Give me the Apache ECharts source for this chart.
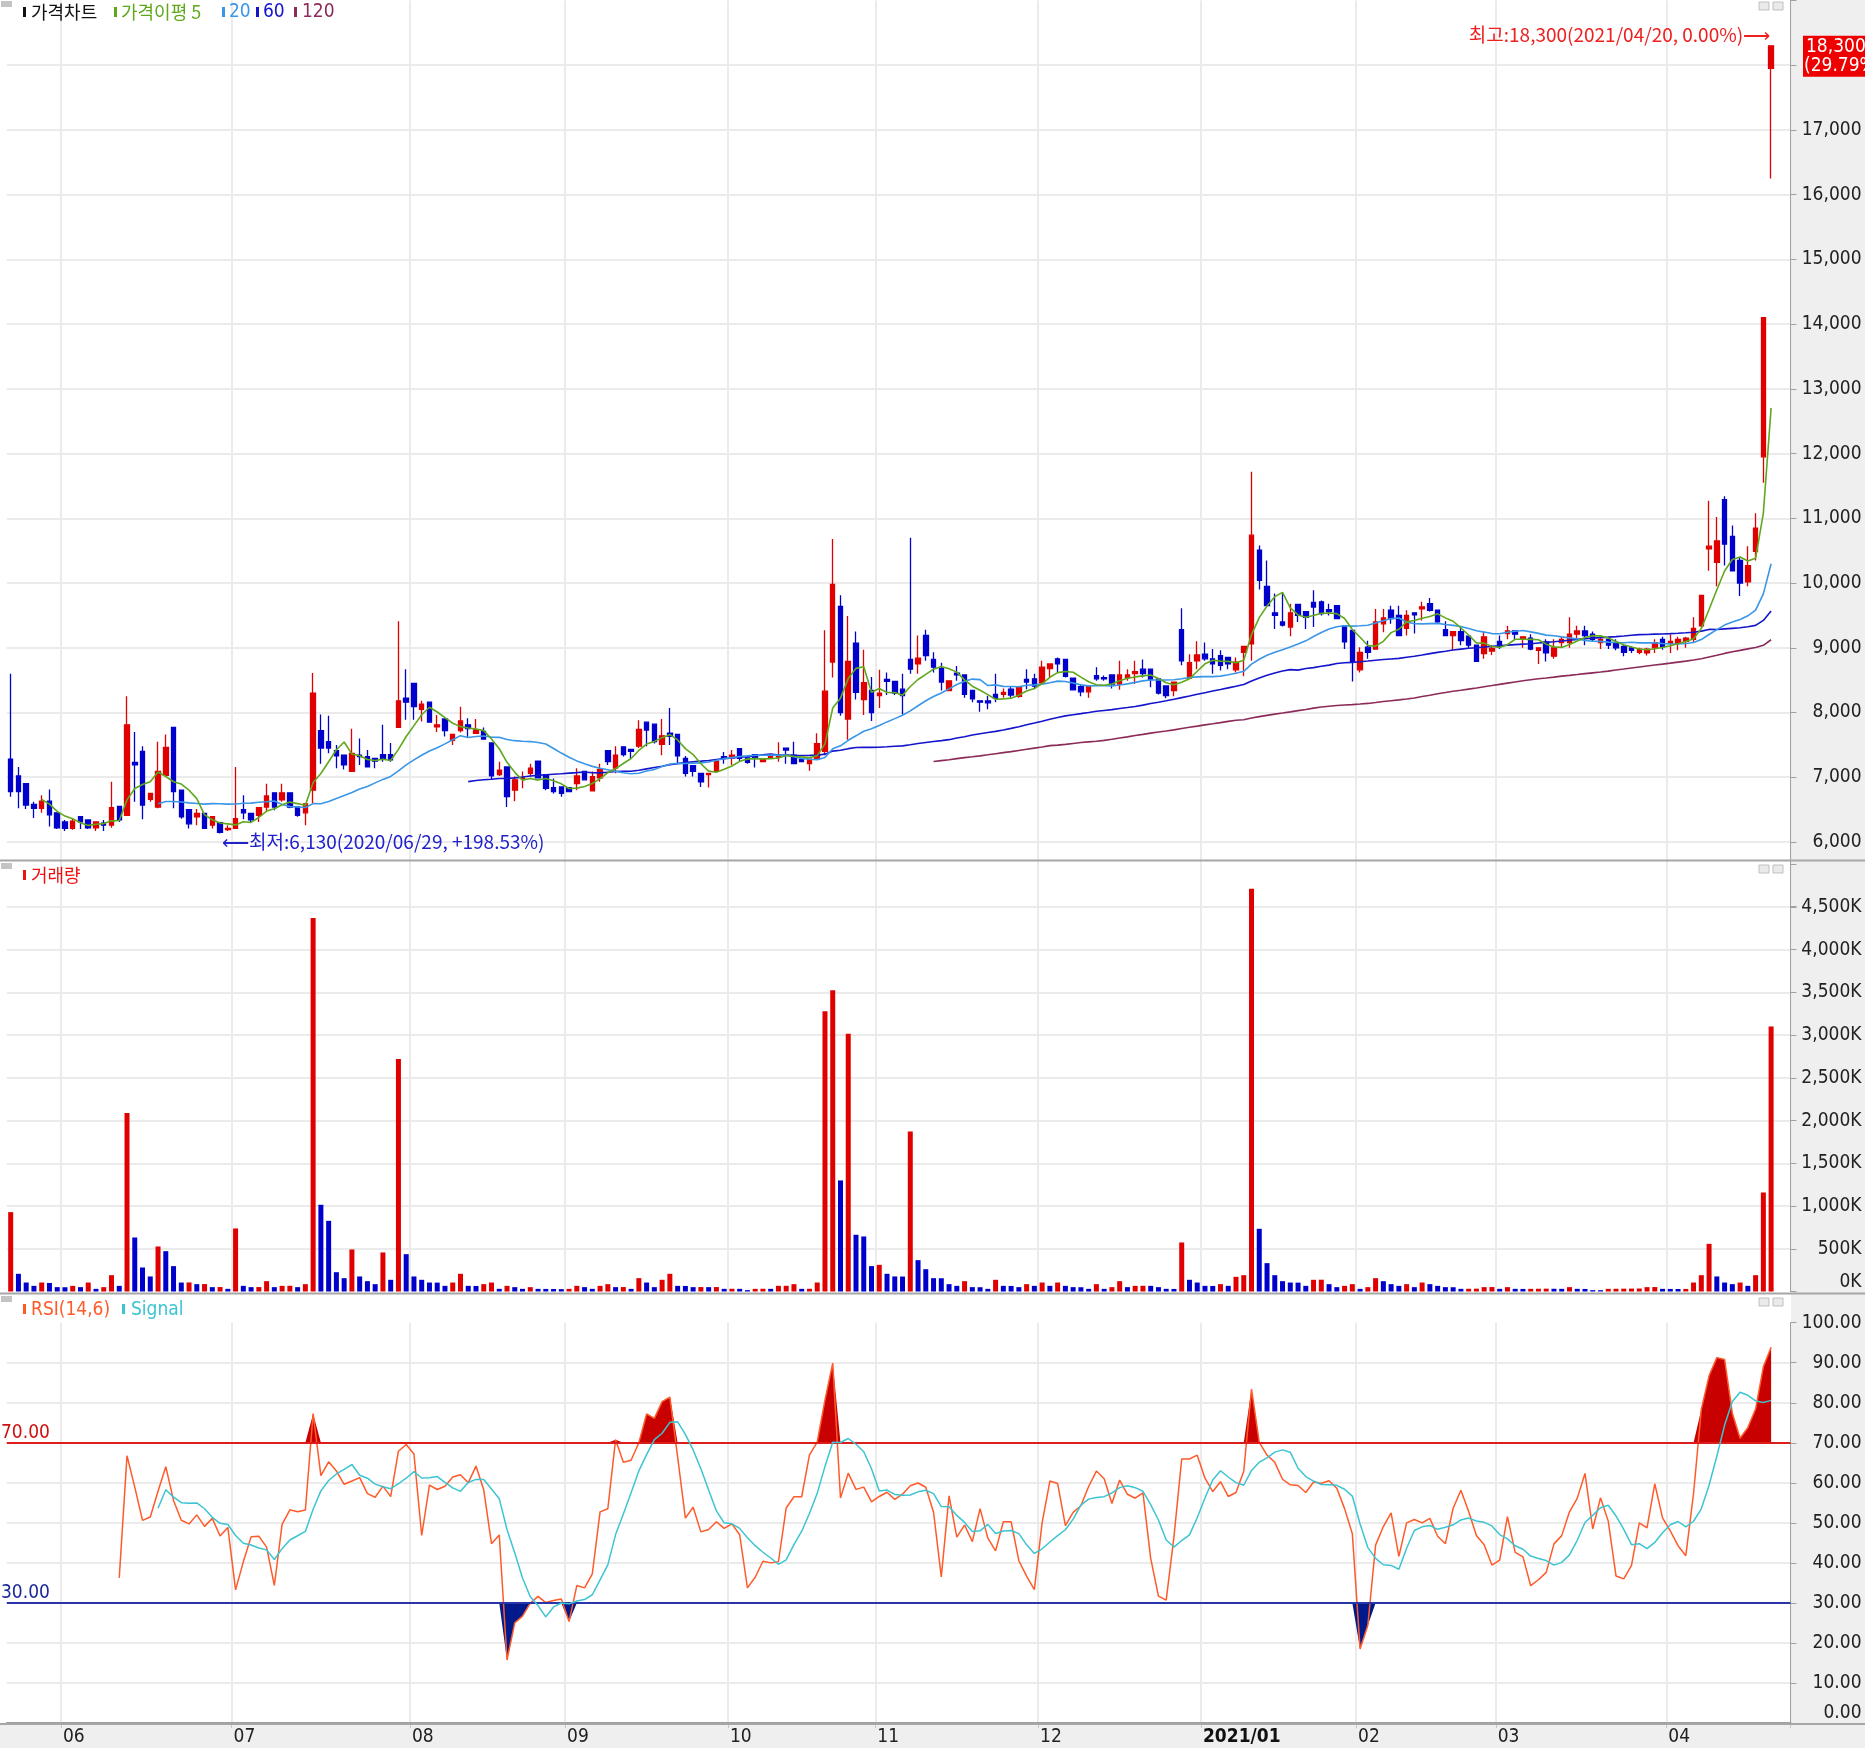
<!DOCTYPE html>
<html><head><meta charset="utf-8">
<script src="https://cdn.jsdelivr.net/npm/echarts@6.0.0/dist/echarts.min.js"></script>
<style>html,body{margin:0;padding:0;background:#fff}#c{width:1865px;height:1748px}</style>
</head><body><div id="c"></div><script>
// ---------------- DATA ----------------
const dates = ("2020/05/21 2020/05/22 2020/05/25 2020/05/26 2020/05/27 2020/05/28 2020/05/29 " +
"2020/06/01 2020/06/02 2020/06/03 2020/06/04 2020/06/05 2020/06/08 2020/06/09 2020/06/10 2020/06/11 2020/06/12 2020/06/15 2020/06/16 2020/06/17 2020/06/18 2020/06/19 2020/06/22 2020/06/23 2020/06/24 2020/06/25 2020/06/26 2020/06/29 2020/06/30 " +
"2020/07/01 2020/07/02 2020/07/03 2020/07/06 2020/07/07 2020/07/08 2020/07/09 2020/07/10 2020/07/13 2020/07/14 2020/07/15 2020/07/16 2020/07/17 2020/07/20 2020/07/21 2020/07/22 2020/07/23 2020/07/24 2020/07/27 2020/07/28 2020/07/29 2020/07/30 2020/07/31 " +
"2020/08/03 2020/08/04 2020/08/05 2020/08/06 2020/08/07 2020/08/10 2020/08/11 2020/08/12 2020/08/13 2020/08/14 2020/08/18 2020/08/19 2020/08/20 2020/08/21 2020/08/24 2020/08/25 2020/08/26 2020/08/27 2020/08/28 2020/08/31 " +
"2020/09/01 2020/09/02 2020/09/03 2020/09/04 2020/09/07 2020/09/08 2020/09/09 2020/09/10 2020/09/11 2020/09/14 2020/09/15 2020/09/16 2020/09/17 2020/09/18 2020/09/21 2020/09/22 2020/09/23 2020/09/24 2020/09/25 2020/09/28 2020/09/29 " +
"2020/10/05 2020/10/06 2020/10/07 2020/10/08 2020/10/12 2020/10/13 2020/10/14 2020/10/15 2020/10/16 2020/10/19 2020/10/20 2020/10/21 2020/10/22 2020/10/23 2020/10/26 2020/10/27 2020/10/28 2020/10/29 2020/10/30 " +
"2020/11/02 2020/11/03 2020/11/04 2020/11/05 2020/11/06 2020/11/09 2020/11/10 2020/11/11 2020/11/12 2020/11/13 2020/11/16 2020/11/17 2020/11/18 2020/11/19 2020/11/20 2020/11/23 2020/11/24 2020/11/25 2020/11/26 2020/11/27 2020/11/30 " +
"2020/12/01 2020/12/02 2020/12/03 2020/12/04 2020/12/07 2020/12/08 2020/12/09 2020/12/10 2020/12/11 2020/12/14 2020/12/15 2020/12/16 2020/12/17 2020/12/18 2020/12/21 2020/12/22 2020/12/23 2020/12/24 2020/12/28 2020/12/29 2020/12/30 " +
"2021/01/04 2021/01/05 2021/01/06 2021/01/07 2021/01/08 2021/01/11 2021/01/12 2021/01/13 2021/01/14 2021/01/15 2021/01/18 2021/01/19 2021/01/20 2021/01/21 2021/01/22 2021/01/25 2021/01/26 2021/01/27 2021/01/28 2021/01/29 " +
"2021/02/01 2021/02/02 2021/02/03 2021/02/04 2021/02/05 2021/02/08 2021/02/09 2021/02/10 2021/02/15 2021/02/16 2021/02/17 2021/02/18 2021/02/19 2021/02/22 2021/02/23 2021/02/24 2021/02/25 2021/02/26 " +
"2021/03/02 2021/03/03 2021/03/04 2021/03/05 2021/03/08 2021/03/09 2021/03/10 2021/03/11 2021/03/12 2021/03/15 2021/03/16 2021/03/17 2021/03/18 2021/03/19 2021/03/22 2021/03/23 2021/03/24 2021/03/25 2021/03/26 2021/03/29 2021/03/30 2021/03/31 " +
"2021/04/01 2021/04/02 2021/04/05 2021/04/06 2021/04/07 2021/04/08 2021/04/09 2021/04/12 2021/04/13 2021/04/14 2021/04/15 2021/04/16 2021/04/19 2021/04/20").split(' ');

const opens = [
7280,7020,6900,6580,6520,6630,6450,6310,6210,6390, 6340,6220,6290,6260,6550,6410,7230,7400,6660,6540,
7030,7770,6800,6500,6390,6440,6260,6300,6190,6210, 6500,6440,6410,6540,6760,6650,6760,6540,6450,6800,
7720,7550,7410,7340,7090,7340,7320,7290,7350,7350, 7770,8220,8450,8050,8160,7780,7900,7570,7720,7810,
7680,7710,7530,7040,7160,6800,6980,7060,7250,7040, 6840,6850,6840,6900,7090,6790,6990,7410,7140,7470,
7430,7480,7850,7820,7510,7680,7660,7290,7180,7060, 7040,7090,7320,7300,7440,7300,7350,7240,7290,7310,
7450,7340,7280,7210,7290,7400,8780,9640,7900,9070, 8200,8340,8260,8510,8480,8360,8820,8750,9190,8820,
8680,8340,8610,8580,8340,8180,8180,8280,8280,8360, 8250,8510,8520,8460,8680,8830,8820,8530,8400,8320,
8570,8540,8580,8440,8540,8600,8670,8670,8520,8410, 8340,9280,8530,8800,8900,8830,8880,8850,8660,8930,
9060,10510,9950,9540,9400,9320,9670,9560,9700,9710, 9590,9650,9340,9270,8660,9010,8980,9370,9580,9500,
9300,9540,9600,9680,9580,9280,9190,9250,9180,9040, 8910,8950,9100,9220,9260,9130,9150,8960,9090,8870,
9080,9080,9210,9260,9210,9080,9130,9080,9020,9000, 8930,8920,9000,9130,9070,9070,9100,9130,9340,10530,
10320,11290,10720,10350,10020,10490,11950,17950];

const highs = [
8600,7160,6900,6620,6720,6810,6450,6340,6360,6390, 6340,6310,6340,6930,6550,8250,7700,7480,6750,7550,
7660,7770,6800,6500,6510,6440,6400,6300,6260,7160, 6720,6440,6540,6900,6760,6900,6760,6540,6590,8610,
7970,7950,7500,7340,7750,7600,7420,7290,7810,7530, 9410,8670,8450,8180,8160,7960,7900,7660,8090,7910,
7900,7770,7530,7240,7160,7010,7090,7210,7250,7040, 6980,6850,6840,7140,7090,7090,7210,7410,7480,7470,
7430,7880,7850,7820,7900,8070,7660,7330,7180,7060, 7060,7250,7390,7420,7440,7300,7350,7270,7350,7540,
7450,7550,7280,7280,7680,9270,10680,9810,9490,9250, 8970,8550,8660,8620,8480,8600,10700,9190,9280,8930,
8770,8490,8720,8580,8340,8180,8260,8600,8370,8410, 8410,8670,8600,8800,8750,8850,8820,8530,8440,8400,
8700,8570,8580,8800,8670,8800,8820,8670,8520,8410, 8470,9610,8900,9100,9080,8980,8960,8850,8850,9020,
11720,10580,10350,9840,9850,9680,9670,9560,9890,9730, 9680,9650,9340,9270,9010,9110,9600,9600,9650,9650,
9580,9550,9710,9770,9580,9410,9250,9320,9180,9040, 9250,9040,9190,9340,9270,9170,9210,9000,9130,9130,
9170,9470,9340,9340,9250,9170,9170,9130,9040,9020, 9000,9000,9130,9170,9210,9170,9170,9470,9810,11270,
11020,11340,10890,10400,10570,11080,14100,18300];

const lows = [
6700,6520,6510,6370,6450,6240,6200,6170,6190,6200, 6200,6170,6170,6220,6310,6410,6620,6350,6620,6520,
7030,6520,6360,6210,6260,6200,6210,6130,6170,6200, 6350,6310,6310,6470,6490,6620,6520,6390,6260,6600,
7210,7370,7140,7120,7080,7190,7150,7140,7240,7240, 7770,7890,7890,7860,7840,7700,7630,7500,7690,7610,
7680,7580,6960,7020,6540,6630,6830,7010,6980,6800, 6750,6700,6770,6800,6950,6780,6930,7190,7060,7320,
7290,7450,7480,7520,7340,7500,7210,7010,7010,6850, 6840,7090,7210,7190,7240,7210,7150,7230,7290,7240,
7210,7200,7240,7100,7270,7340,8540,7950,7580,8200, 7960,7870,8070,8270,8270,7970,8600,8600,8800,8620,
8340,8340,8490,8230,8160,8010,8050,8160,8230,8230, 8230,8360,8360,8440,8540,8620,8540,8340,8250,8230,
8490,8490,8370,8350,8490,8440,8540,8390,8280,8220, 8250,8730,8530,8670,8800,8600,8650,8670,8620,8560,
8800,9900,9650,9290,9330,9180,9400,9290,9320,9500, 9500,9440,8980,8480,8620,8830,8980,9240,9370,9180,
9190,9220,9420,9560,9370,9180,8960,9040,8990,8780, 8830,8890,8980,9130,9120,9000,8960,8750,8790,8830,
9000,9000,9130,9040,9090,8980,8980,8960,8870,8920, 8900,8880,8920,8970,8920,8960,9000,9090,9300,10190,
9950,10270,10190,9800,9950,10350,11550,16250];

const closes = [
6780,6780,6570,6520,6630,6420,6220,6210,6320,6310, 6220,6310,6260,6530,6340,7810,7190,6570,6750,7090,
7460,6780,6390,6280,6440,6210,6390,6150,6210,6360, 6450,6340,6530,6710,6540,6760,6540,6410,6590,8300,
7450,7450,7330,7190,7370,7320,7160,7250,7290,7270, 8180,8160,8090,8130,7850,7810,7720,7660,7870,7750,
7730,7590,7020,7110,6700,6960,6990,7140,6990,6830, 6780,6750,6780,7020,6960,7010,7120,7240,7340,7350,
7400,7740,7730,7550,7640,7630,7330,7060,7090,6930, 7060,7250,7290,7340,7290,7230,7290,7270,7350,7350,
7420,7210,7240,7280,7520,8330,9980,8000,8790,8310, 8460,8000,8300,8480,8300,8260,8670,8840,8880,8700,
8470,8490,8580,8280,8210,8160,8150,8220,8310,8270, 8390,8470,8410,8700,8750,8750,8560,8350,8320,8400,
8520,8520,8440,8580,8580,8630,8600,8510,8300,8260, 8470,8800,8770,8890,8830,8750,8730,8750,8780,9020,
10740,10040,9650,9500,9350,9540,9500,9470,9630,9530, 9560,9450,9090,8780,8930,8930,9400,9460,9450,9190,
9500,9510,9630,9580,9400,9190,9250,9110,9040,8790, 9170,8990,9030,9260,9210,9170,8980,9000,8920,9000,
9130,9210,9260,9190,9130,9130,9040,9000,8930,8960, 8980,8980,9080,9020,9100,9130,9150,9300,9810,10570,
10650,10600,10190,10000,10270,10850,14100,18300];

// volume in thousands of shares
const volumesK = [
929,207,105,66,105,100,51,50,66,51, 105,31,51,191,66,2088,632,281,176,527,
472,297,105,106,86,87,51,52,31,738, 66,51,52,121,51,66,67,51,86,4371,
1015,827,226,156,492,176,121,86,457,137, 2720,437,176,137,105,104,66,105,207,66,
65,86,105,31,66,51,31,51,31,30, 29,28,31,66,51,31,66,86,51,52,
31,156,105,51,137,207,66,65,51,52, 51,52,31,32,31,16,31,32,31,66,
67,86,31,32,105,3279,3525,1300,3017,664, 644,297,312,207,176,175,1873,367,261,156,
155,86,66,121,51,50,31,137,66,65, 51,86,66,105,66,105,66,51,50,31,
86,31,51,121,51,66,67,66,51,31, 30,574,137,105,66,65,86,66,172,191,
4715,734,332,191,121,105,104,66,137,138, 86,51,66,86,31,51,156,121,86,66,
86,51,105,86,66,51,50,31,32,33, 51,52,31,51,31,30,31,32,33,32,
31,51,31,30,16,15,31,32,33,34, 35,51,52,31,30,29,30,105,191,558,
176,105,86,105,66,191,1159,3103];

const xTickLabels = ['06','07','08','09','10','11','12','2021/01','02','03','04'];
const priceTicks = [6000,7000,8000,9000,10000,11000,12000,13000,14000,15000,16000,17000];
const maPeriods = [5, 20, 60, 120];
const maColors = ['#5fa81c', '#3a96e6', '#1414cc', '#8c2a5a'];
const RSI_N = 14, SIG_N = 6;

// ---------------- DERIVED ----------------
const NARROW = "'Liberation Sans Narrow','DejaVu Sans Condensed','Liberation Sans',sans-serif";
const KR = "'Noto Sans CJK KR',sans-serif";
const MIX = "'Liberation Sans Narrow','Noto Sans CJK KR',sans-serif";
const UP = '#e00000', DOWN = '#0000cc';

const cats = dates.concat([' ', '  ']); // right padding slots
const monthStart = dates.map((d, i) => i > 0 && d.slice(0, 7) !== dates[i - 1].slice(0, 7));
const monthLabel = {};
let mk = 0;
dates.forEach((d, i) => { if (monthStart[i]) monthLabel[i] = xTickLabels[mk++]; });

const ohlc = dates.map((d, i) => [opens[i], closes[i], lows[i], highs[i]]);
function sma(arr, n) {
  return arr.map((v, i) => {
    if (i < n - 1 || arr[i - n + 1] == null) return '-';
    let s = 0; for (let k = i - n + 1; k <= i; k++) s += arr[k];
    return +(s / n).toFixed(2);
  });
}
const mas = maPeriods.map(p => sma(closes, p));
const rsi = closes.map((c, i) => {
  if (i < RSI_N) return null;
  let g = 0, l = 0;
  for (let k = i - RSI_N + 1; k <= i; k++) { const d = closes[k] - closes[k - 1]; if (d > 0) g += d; else l -= d; }
  return g + l === 0 ? 50 : 100 * g / (g + l);
});
const signal = rsi.map((v, i) => {
  if (i < RSI_N + SIG_N - 1) return null;
  let s = 0; for (let k = i - SIG_N + 1; k <= i; k++) s += rsi[k];
  return s / SIG_N;
});
const dash = v => v == null ? '-' : +v.toFixed(2);
const volData = volumesK.map((v, i) => ({ value: v, itemStyle: { color: (i === 0 || v > volumesK[i - 1]) ? UP : DOWN } }));

const maxHigh = Math.max(...highs), hiIdx = highs.indexOf(maxHigh);
const minLow = Math.min(...lows), loIdx = lows.indexOf(minLow);
const last = closes.length - 1;
const lastChg = (closes[last] - closes[last - 1]) / closes[last - 1] * 100;
const fmt = v => v.toLocaleString('en-US');

// ---------------- CHART ----------------
const G = { left: 6.8, width: 1783.7 };
const splitX = { show: true, interval: (i) => !!monthStart[i], lineStyle: { color: '#ebebeb', width: 2 } };
function catAxis(gi, bottom) {
  return {
    type: 'category', gridIndex: gi, data: cats, boundaryGap: true,
    axisLine: { show: bottom, lineStyle: { color: '#a0a0a0', width: 2 } },
    axisTick: { show: bottom, interval: (i) => !!monthStart[i], length: 5, lineStyle: { color: '#c8c8c8' } },
    axisLabel: bottom ? {
      show: true, interval: (i) => !!monthStart[i], margin: 5, align: 'left',
      fontFamily: NARROW, fontSize: 19, color: '#222', padding: [0, 0, 0, -2],
      formatter: (v, i) => { const t = monthLabel[i] || ''; return t.indexOf('/') > 0 ? '{b|' + t + '}' : t; },
      rich: { b: { fontFamily: NARROW, fontSize: 19, fontWeight: 'bold', color: '#111' } }
    } : { show: false },
    splitLine: splitX
  };
}
function valAxis(gi, min, max, interval, fmtFn) {
  return {
    type: 'value', gridIndex: gi, position: 'right', min, max, interval, scale: false,
    axisLine: { show: true, lineStyle: { color: '#a0a0a0', width: 1 } },
    axisTick: { show: true, inside: false, length: 6, lineStyle: { color: '#a0a0a0' } },
    axisLabel: { show: true, margin: 71, align: 'right', fontFamily: NARROW, fontSize: 19, color: '#222',
      verticalAlignMinLabel: 'bottom', formatter: fmtFn },
    splitLine: { show: true, showMaxLine: false, showMinLine: false, lineStyle: { color: '#ebebeb', width: 2 } }
  };
}

const series = [
  { type: 'candlestick', xAxisIndex: 0, yAxisIndex: 0, data: ohlc, barWidth: 5,
    itemStyle: { color: UP, color0: DOWN, borderColor: UP, borderColor0: DOWN, borderColorDoji: UP, borderWidth: 1.3 } }
];
[3, 2, 1, 0].forEach(k => series.push({
  type: 'line', xAxisIndex: 0, yAxisIndex: 0, data: mas[k], symbol: 'none', silent: true,
  lineStyle: { color: maColors[k], width: 1.6 }, z: 3
}));
series.push({ type: 'bar', xAxisIndex: 1, yAxisIndex: 1, data: volData, barWidth: 5 });
// RSI fills (overbought above 70, oversold below 30)
series.push({ type: 'line', xAxisIndex: 2, yAxisIndex: 2, stack: 'ob', symbol: 'none', silent: true,
  data: rsi.map(v => v == null ? '-' : 70), lineStyle: { opacity: 0 } });
series.push({ type: 'line', xAxisIndex: 2, yAxisIndex: 2, stack: 'ob', symbol: 'none', silent: true,
  data: rsi.map(v => v == null ? '-' : Math.max(v - 70, 0)), lineStyle: { opacity: 0 }, areaStyle: { color: '#c80000', opacity: 1 } });
series.push({ type: 'line', xAxisIndex: 2, yAxisIndex: 2, stack: 'os', symbol: 'none', silent: true,
  data: rsi.map(v => v == null ? '-' : Math.min(v, 30)), lineStyle: { opacity: 0 } });
series.push({ type: 'line', xAxisIndex: 2, yAxisIndex: 2, stack: 'os', symbol: 'none', silent: true,
  data: rsi.map(v => v == null ? '-' : 30 - Math.min(v, 30)), lineStyle: { opacity: 0 }, areaStyle: { color: '#001a8c', opacity: 1 } });
series.push({ type: 'line', xAxisIndex: 2, yAxisIndex: 2, data: rsi.map(dash), symbol: 'none', silent: true,
  lineStyle: { color: '#ff5a2a', width: 1.5 }, z: 4,
  markLine: { silent: true, symbol: 'none', label: { show: false },
    data: [{ yAxis: 70, lineStyle: { color: '#dd1c1c', width: 2, type: 'solid' } },
           { yAxis: 30, lineStyle: { color: '#2a36a8', width: 2, type: 'solid' } }] } });
series.push({ type: 'line', xAxisIndex: 2, yAxisIndex: 2, data: signal.map(dash), symbol: 'none', silent: true,
  lineStyle: { color: '#3cc4d2', width: 1.5 }, z: 5 });

const chart = echarts.init(document.getElementById('c'), null, { renderer: 'canvas' });
chart.setOption({
  animation: false, backgroundColor: '#ffffff',
  grid: [
    Object.assign({ top: 0.5, height: 906.2 }, G),
    Object.assign({ top: 864.3, height: 427.2 }, G),
    Object.assign({ top: 1322.7, height: 400.3 }, G)
  ],
  xAxis: [catAxis(0, false), catAxis(1, false), catAxis(2, true)],
  yAxis: [
    valAxis(0, 5000, 19000, 1000, v => priceTicks.indexOf(v) >= 0 ? fmt(v) : ''),
    valAxis(1, 0, 5000, 500, v => v <= 4500 ? fmt(v) + 'K' : ''),
    valAxis(2, 0, 100, 10, v => v.toFixed(2))
  ],
  series
});

// ---------------- ANNOTATIONS & FRAME ----------------
const pH = chart.convertToPixel({ xAxisIndex: 0, yAxisIndex: 0 }, [hiIdx, maxHigh]);
const pL = chart.convertToPixel({ xAxisIndex: 0, yAxisIndex: 0 }, [loIdx, minLow]);
const yLast = chart.convertToPixel({ yAxisIndex: 0 }, closes[last]);
const y70 = chart.convertToPixel({ yAxisIndex: 2 }, 70);
const y30 = chart.convertToPixel({ yAxisIndex: 2 }, 30);

function txt(x, y, text, fill, font, align, valign, z) {
  return { type: 'text', x, y, z: z || 50, silent: true,
    style: { text, fill, font, textAlign: align || 'left', align: align || 'left', textVerticalAlign: valign || 'middle', verticalAlign: valign || 'middle' } };
}
function rect(x, y, w, h, fill, z, stroke) {
  return { type: 'rect', shape: { x, y, width: w, height: h }, z: z == null ? 50 : z, silent: true,
    style: { fill, stroke: stroke || null, lineWidth: stroke ? 1 : 0 } };
}
function hline(y, color, w) {
  return { type: 'line', shape: { x1: 0, y1: y, x2: 1865, y2: y }, z: 60, silent: true, style: { stroke: color, lineWidth: w } };
}
const hiDate = dates[hiIdx];
const loDate = dates[loIdx];
const hiPct = ((closes[last] - maxHigh) / maxHigh * 100).toFixed(2);
const loPct = ((maxHigh - minLow) / minLow * 100).toFixed(2);

const F19 = '19px ' + NARROW;
const FKR = '18px ' + KR;
const g = [
  // right label column & bottom strip backgrounds
  rect(1791, 0, 74, 1748, '#efefef', -10),
  rect(0, 1724, 1865, 24, '#efefef', -10),
  // panel separators
  hline(860.5, '#a6a6a6', 2), hline(1293.5, '#a6a6a6', 2), hline(1724, '#a6a6a6', 2),
  // panel header icons
  rect(1, 1, 11, 6, '#c4c4c4'), rect(1, 863, 11, 6, '#c4c4c4'), rect(1, 1296, 11, 6, '#c4c4c4'),
  rect(1759, 2, 10, 8, '#eaeaea', 50, '#c0c0c0'), rect(1773, 2, 10, 8, '#eaeaea', 50, '#c0c0c0'),
  rect(1759, 865, 10, 8, '#eaeaea', 50, '#c0c0c0'), rect(1773, 865, 10, 8, '#eaeaea', 50, '#c0c0c0'),
  rect(1759, 1298, 10, 8, '#eaeaea', 50, '#c0c0c0'), rect(1773, 1298, 10, 8, '#eaeaea', 50, '#c0c0c0'),
  // price legend
  rect(23, 7, 3, 10, '#111'), txt(31, 12, '가격차트', '#111', FKR),
  rect(114, 7, 3, 10, maColors[0]), txt(121, 12, '가격이평 ' + maPeriods[0], maColors[0], '18px ' + MIX),
  rect(222, 7, 3, 10, maColors[1]), txt(229, 12, String(maPeriods[1]), maColors[1], F19),
  rect(256, 7, 3, 10, maColors[2]), txt(263, 12, String(maPeriods[2]), maColors[2], F19),
  rect(294, 7, 3, 10, maColors[3]), txt(302, 12, String(maPeriods[3]), maColors[3], F19),
  // volume legend
  rect(23, 870, 3, 10, '#ee1111'), txt(31, 875, '거래량', '#ee1111', FKR),
  // rsi legend
  rect(23, 1304, 3, 10, '#ff5a2a'), txt(31, 1310, 'RSI(' + RSI_N + ',' + SIG_N + ')', '#ff5a2a', F19),
  rect(122, 1304, 3, 10, '#3cc4d2'), txt(131, 1310, 'Signal', '#3cc4d2', F19),
  // RSI level labels
  txt(1, y70 - 10, '70.00', '#cc1111', F19), txt(1, y30 - 10, '30.00', '#1a2a9a', F19),
  // high / low annotations
  txt(pH[0] - 1, pH[1] - 11, '최고:' + fmt(maxHigh) + '(' + hiDate + ', ' + hiPct + '%)⟶', '#ee2020', '19px ' + MIX, 'right'),
  txt(pL[0] + 2, pL[1] + 8, '⟵최저:' + fmt(minLow) + '(' + loDate + ', +' + loPct + '%)', '#2222cc', '19px ' + MIX, 'left'),
  // last price box
  rect(1803, yLast - 10, 62, 41, '#ee0000', 55),
  txt(1806, yLast + 1, fmt(closes[last]), '#ffffff', F19, 'left', 'middle', 56),
  txt(1804, yLast + 20, '(' + lastChg.toFixed(2) + '%)', '#ffffff', F19, 'left', 'middle', 56)
];
chart.setOption({ graphic: { elements: g } });
</script></body></html>
